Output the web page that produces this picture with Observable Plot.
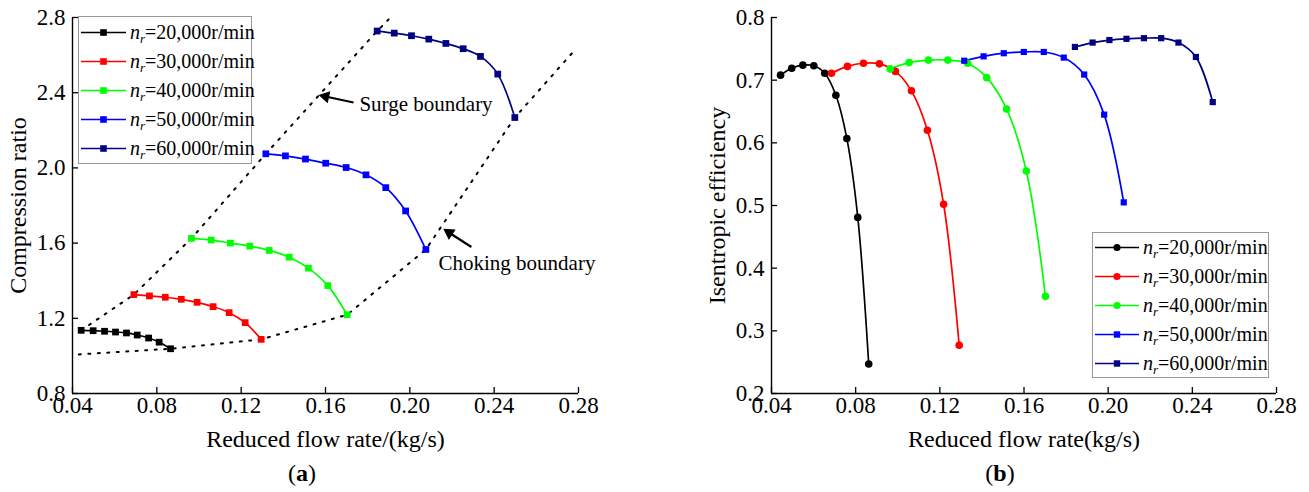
<!DOCTYPE html>
<html><head><meta charset="utf-8">
<script src="https://cdn.jsdelivr.net/npm/d3@7"></script>
<script src="https://cdn.jsdelivr.net/npm/@observablehq/plot@0.6"></script>
<style>
body{margin:0;background:#fff;font-family:"Liberation Serif","Times New Roman",serif;}
#wrap{position:relative;width:1309px;height:492px;overflow:hidden;background:#fff;}
.panel{position:absolute;top:0;}
.legend{position:absolute;border:1px solid #999;background:#fff;box-sizing:border-box;}
.legend .row{position:absolute;left:0;height:29px;width:100%;}
.legend .row svg{position:absolute;top:8px;}
.legend .row span{position:absolute;top:0;line-height:29px;font-size:20px;white-space:nowrap;color:#000;}
.legend sub{font-size:13px;vertical-align:-4px;line-height:0;}
.cap{position:absolute;font-size:24px;transform:translate(-50%,-50%);white-space:nowrap;}
</style></head>
<body><div id="wrap"></div>
<script>
// ---------- shared ----------
const speeds = ["20,000", "30,000", "40,000", "50,000", "60,000"];
const colors = ["#000000", "#ff0000", "#00ff00", "#0000ff", "#000080"];
const xTicks = [0.04, 0.08, 0.12, 0.16, 0.20, 0.24, 0.28];
const yTicksA = [0.8, 1.2, 1.6, 2.0, 2.4, 2.8];
const yTicksB = [0.2, 0.3, 0.4, 0.5, 0.6, 0.7, 0.8];

// ---------- panel (a): compression ratio ----------
const a20x = [0.0441, 0.0498, 0.0552, 0.0604, 0.0656, 0.0707, 0.0761, 0.0811, 0.0865];
const a20y = [1.136, 1.134, 1.131, 1.127, 1.122, 1.111, 1.095, 1.073, 1.038];
const a30x = [0.0691, 0.0765, 0.0840, 0.0916, 0.0991, 0.1067, 0.1143, 0.1219, 0.1295];
const a30y = [1.326, 1.319, 1.312, 1.301, 1.285, 1.262, 1.230, 1.177, 1.088];
const a40x = [0.0964, 0.1058, 0.1149, 0.1241, 0.1333, 0.1428, 0.1519, 0.1611, 0.1703];
const a40y = [1.625, 1.616, 1.600, 1.584, 1.561, 1.525, 1.467, 1.374, 1.219];
const a50x = [0.1317, 0.1410, 0.1505, 0.1601, 0.1698, 0.1792, 0.1886, 0.1980, 0.2076];
const a50y = [2.075, 2.064, 2.047, 2.025, 2.002, 1.963, 1.895, 1.771, 1.566];
const a60x = [0.1845, 0.1926, 0.2008, 0.2090, 0.2171, 0.2253, 0.2335, 0.2417, 0.2498];
const a60y = [2.728, 2.717, 2.703, 2.685, 2.662, 2.634, 2.593, 2.499, 2.268];

const surgeX = [0.0441, 0.0691, 0.0964, 0.1317, 0.1845, 0.1899];
const surgeY = [1.136, 1.326, 1.625, 2.075, 2.728, 2.789];
const chokeX = [0.0430, 0.0865, 0.1295, 0.1703, 0.2076, 0.2498, 0.2785];
const chokeY = [1.008, 1.038, 1.088, 1.219, 1.566, 2.268, 2.630];

const labelText = ["Surge boundary", "Choking boundary"];
const labelX = [0.1761, 0.2136];
const labelY = [2.341, 1.493];
const arrowTailX = [0.1733, 0.2292];
const arrowTailY = [2.348, 1.579];
const arrowHeadX = [0.1600, 0.2187];
const arrowHeadY = [2.380, 1.655];
const arrowAngle = [-78, -57];

// ---------- panel (b): isentropic efficiency ----------
const b20x = [0.0443, 0.0496, 0.0549, 0.0601, 0.0653, 0.0706, 0.0758, 0.0810, 0.0862];
const b20y = [0.708, 0.719, 0.724, 0.723, 0.711, 0.676, 0.607, 0.481, 0.247];
const b30x = [0.0685, 0.0761, 0.0837, 0.0913, 0.0989, 0.1065, 0.1141, 0.1218, 0.1292];
const b30y = [0.711, 0.722, 0.727, 0.726, 0.714, 0.683, 0.620, 0.502, 0.277];
const b40x = [0.0964, 0.1054, 0.1146, 0.1238, 0.1332, 0.1423, 0.1517, 0.1611, 0.1702];
const b40y = [0.718, 0.728, 0.732, 0.732, 0.727, 0.704, 0.654, 0.555, 0.355];
const b50x = [0.1316, 0.1408, 0.1504, 0.1599, 0.1694, 0.1789, 0.1886, 0.1981, 0.2074];
const b50y = [0.731, 0.738, 0.743, 0.745, 0.745, 0.736, 0.709, 0.645, 0.505];
const b60x = [0.1842, 0.1926, 0.2006, 0.2087, 0.2170, 0.2252, 0.2334, 0.2417, 0.2497];
const b60y = [0.753, 0.760, 0.764, 0.766, 0.767, 0.767, 0.760, 0.737, 0.665];

// ---------- build tables ----------
function rows(xsList, ysList) {
  const out = [];
  xsList.forEach((xs, k) => xs.forEach((x, i) => out.push({s: speeds[k], x, y: ysList[k][i]})));
  return out;
}
const aRows = rows([a20x, a30x, a40x, a50x, a60x], [a20y, a30y, a40y, a50y, a60y]);
const bRows = rows([b20x, b30x, b40x, b50x, b60x], [b20y, b30y, b40y, b50y, b60y]);
const surge = surgeX.map((x, i) => ({x, y: surgeY[i]}));
const choke = chokeX.map((x, i) => ({x, y: chokeY[i]}));
const labels = labelText.map((t, i) => ({t, x: labelX[i], y: labelY[i]}));
const arrows = arrowTailX.map((x, i) => ({x1: x, y1: arrowTailY[i], x2: arrowHeadX[i], y2: arrowHeadY[i], a: arrowAngle[i]}));

const FONT = "Liberation Serif, Times New Roman, serif";
const fmtX = d3.format(".2f");

function axes(yTicks, fmtY, xDom, yDom, xTitle, yTitle) {
  return [
    Plot.ruleX([xDom[0]], {stroke: "#000", strokeWidth: 1.4}),
    Plot.ruleY([yDom[0]], {stroke: "#000", strokeWidth: 1.4}),
    Plot.axisX(xTicks, {tickSize: -6, tickPadding: 9, tickFormat: fmtX, label: null, fontSize: 23, strokeWidth: 1.3}),
    Plot.axisY(yTicks, {tickSize: -6, tickPadding: 13, tickFormat: fmtY, label: null, fontSize: 23, strokeWidth: 1.3}),
    Plot.text([xTitle], {frameAnchor: "bottom", dy: 46, fontSize: 24, textAnchor: "middle", lineAnchor: "middle"}),
    Plot.text([yTitle], {frameAnchor: "left", dx: -54, rotate: -90, fontSize: 24, textAnchor: "middle", lineAnchor: "middle"})
  ];
}

const left = Plot.plot({
  width: 654, height: 455,
  marginLeft: 72, marginRight: 76, marginTop: 17, marginBottom: 62,
  style: {fontFamily: FONT, fontSize: "23px", color: "#000", background: "transparent", overflow: "visible"},
  x: {domain: [0.04, 0.28], label: null},
  y: {domain: [0.8, 2.8], label: null},
  color: {domain: speeds, range: colors},
  marks: [
    Plot.line(surge, {x: "x", y: "y", stroke: "#000", strokeWidth: 2, strokeDasharray: "2 7.5"}),
    Plot.line(choke, {x: "x", y: "y", stroke: "#000", strokeWidth: 2, strokeDasharray: "2 7.5"}),
    Plot.line(aRows, {x: "x", y: "y", z: "s", stroke: "s", curve: "catmull-rom", strokeWidth: 1.7}),
    Plot.dot(aRows, {x: "x", y: "y", fill: "s", symbol: "square", r: 3.8}),
    Plot.link(arrows, {x1: "x1", y1: "y1", x2: "x2", y2: "y2", stroke: "#000", strokeWidth: 2.2}),
    Plot.dot(arrows, {x: "x2", y: "y2", symbol: "triangle", r: 4.6, fill: "#000", rotate: "a"}),
    Plot.text(labels, {x: "x", y: "y", text: "t", textAnchor: "start", fontSize: 21, lineAnchor: "middle"}),
    ...axes(yTicksA, d3.format(".1f"), [0.04, 0.28], [0.8, 2.8], "Reduced flow rate/(kg/s)", "Compression ratio")
  ]
});

const right = Plot.plot({
  width: 655, height: 455,
  marginLeft: 117, marginRight: 33, marginTop: 17, marginBottom: 62,
  style: {fontFamily: FONT, fontSize: "23px", color: "#000", background: "transparent", overflow: "visible"},
  x: {domain: [0.04, 0.28], label: null},
  y: {domain: [0.2, 0.8], label: null},
  color: {domain: speeds, range: colors},
  marks: [
    Plot.line(bRows, {x: "x", y: "y", z: "s", stroke: "s", curve: "catmull-rom", strokeWidth: 1.7}),
    Plot.dot(bRows.filter(d => speeds.indexOf(d.s) < 3), {x: "x", y: "y", fill: "s", symbol: "circle", r: 3.8}),
    Plot.dot(bRows.filter(d => speeds.indexOf(d.s) >= 3), {x: "x", y: "y", fill: "s", symbol: "square", r: 3.5}),
    ...axes(yTicksB, d3.format(".1f"), [0.04, 0.28], [0.2, 0.8], "Reduced flow rate(kg/s)", "Isentropic efficiency")
  ]
});

const wrap = document.getElementById("wrap");
const pa = document.createElement("div"); pa.className = "panel"; pa.style.left = "0px"; pa.appendChild(left); wrap.appendChild(pa);
const pb = document.createElement("div"); pb.className = "panel"; pb.style.left = "654px"; pb.appendChild(right); wrap.appendChild(pb);

// ---------- legends ----------
function legend(left, top, w, h, rowTop, lineW, textLeft, symbols, sizes) {
  const box = document.createElement("div");
  box.className = "legend";
  Object.assign(box.style, {left: left + "px", top: top + "px", width: w + "px", height: h + "px"});
  speeds.forEach((s, i) => {
    const row = document.createElement("div");
    row.className = "row";
    row.style.top = (rowTop + i * 29) + "px";
    const c = colors[i];
    const mid = lineW / 2;
    const sz = sizes[i];
    const mark = symbols[i] === "circle"
      ? `<circle cx="${mid}" cy="6.5" r="${sz}" fill="${c}"/>`
      : `<rect x="${mid - sz}" y="${6.5 - sz}" width="${2 * sz}" height="${2 * sz}" fill="${c}"/>`;
    row.innerHTML = `<svg width="${lineW}" height="13" style="left:2px"><line x1="0" x2="${lineW}" y1="6.5" y2="6.5" stroke="${c}" stroke-width="1.7"/>${mark}</svg>` +
      `<span style="left:${textLeft}px"><i>n</i><sub><i>r</i></sub>=${s}r/min</span>`;
    box.appendChild(row);
  });
  wrap.appendChild(box);
}
legend(78, 16, 174, 148, 0.5, 45, 51, ["square", "square", "square", "square", "square"], [3.3, 3.3, 3.3, 3.3, 3.3]);
legend(1092, 232, 177, 146, -0.5, 44, 50, ["circle", "circle", "circle", "square", "square"], [3.6, 3.6, 3.6, 3.2, 3.2]);

// ---------- captions ----------
function caption(x, y, letter) {
  const d = document.createElement("div");
  d.className = "cap";
  d.style.left = x + "px"; d.style.top = y + "px";
  d.innerHTML = `(<b>${letter}</b>)`;
  wrap.appendChild(d);
}
caption(302, 473, "a");
caption(1000, 473, "b");
</script>
</body></html>
